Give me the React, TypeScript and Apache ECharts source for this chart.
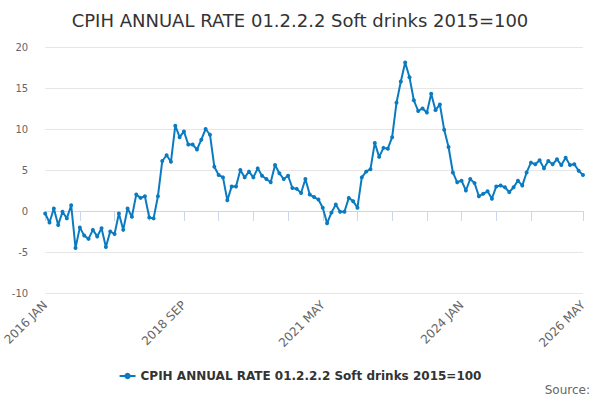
import * as echarts from "echarts";
import { useEffect, useRef } from "react";

const seriesName = "CPIH ANNUAL RATE 01.2.2.2 Soft drinks 2015=100";

// monthly categories, 2016 JAN .. 2026 MAY
const months = ["JAN", "FEB", "MAR", "APR", "MAY", "JUN", "JUL", "AUG", "SEP", "OCT", "NOV", "DEC"];
const categories: string[] = [];
for (let y = 2016; y <= 2026; y++) {
  for (const m of months) categories.push(`${y} ${m}`);
}
const cats = categories.slice(0, 125);

const rates = [
  -0.3, -1.4, 0.3, -1.7, -0.1, -0.9, 0.7, -4.5, -2.0, -3.0,
  -3.4, -2.3, -3.1, -2.1, -4.4, -2.5, -2.8, -0.3, -2.3, 0.3,
  -0.7, 2.0, 1.6, 1.8, -0.8, -0.9, 1.8, 6.1, 6.8, 6.0,
  10.4, 9.0, 9.7, 8.1, 8.1, 7.5, 8.7, 10.0, 9.3, 5.4,
  4.4, 4.1, 1.3, 3.0, 3.0, 5.0, 4.1, 4.8, 4.1, 5.2,
  4.3, 3.9, 3.5, 5.6, 4.6, 3.9, 4.3, 2.8, 2.7, 2.2,
  3.9, 2.0, 1.7, 1.4, 0.4, -1.5, -0.2, 0.8, -0.1, -0.1,
  1.6, 1.2, 0.4, 4.1, 4.8, 5.1, 8.3, 6.6, 7.7, 7.6,
  9.0, 13.2, 15.8, 18.1, 16.3, 13.5, 12.2, 12.5, 12.0, 14.3,
  12.3, 13.0, 9.9, 7.8, 4.7, 3.5, 3.7, 2.5, 3.9, 3.4,
  1.8, 2.1, 2.4, 1.5, 3.0, 3.1, 2.9, 2.3, 2.9, 3.7,
  3.1, 4.7, 5.9, 5.7, 6.2, 5.2, 6.1, 5.7, 6.3, 5.6,
  6.5, 5.6, 5.7, 4.9, 4.4,
];

const labelIdx = [0, 32, 64, 96, 124];
const lineColor = "#0b7bc1";
const font = "DejaVu Sans, sans-serif";

export default function App() {
  const ref = useRef<HTMLDivElement | null>(null);

  useEffect(() => {
    if (!ref.current) return;
    const chart = echarts.init(ref.current, undefined, { renderer: "svg" });
    chart.setOption({
      animation: false,
      backgroundColor: "#fff",
      textStyle: { fontFamily: font },
      title: {
        text: seriesName,
        left: "center",
        top: 6,
        textStyle: { fontSize: 18, fontWeight: "normal", color: "#333", fontFamily: font },
      },
      legend: {
        top: 365,
        left: "center",
        itemWidth: 16,
        itemHeight: 8,
        itemGap: 10,
        textStyle: { fontSize: 12, fontWeight: "bold", color: "#333", fontFamily: font },
        data: [seriesName],
      },
      grid: { left: 45, right: 17, top: 47, bottom: 107, containLabel: false },
      xAxis: {
        type: "category",
        data: cats,
        boundaryGap: false,
        axisLine: { lineStyle: { color: "#ccd6eb" } },
        axisTick: {
          length: 10,
          lineStyle: { color: "#ccd6eb" },
          interval: (i: number) => (i % 8 === 0 && i <= 112) || i === 124,
        },
        axisLabel: {
          rotate: 45,
          color: "#666",
          fontSize: 12,
          margin: 10,
          interval: (i: number) => labelIdx.includes(i),
          showMaxLabel: true,
        },
        splitLine: { show: false },
      },
      yAxis: {
        type: "value",
        min: -10,
        max: 20,
        interval: 5,
        axisLine: { show: false },
        axisTick: { show: false },
        axisLabel: { color: "#666", fontSize: 10, margin: 17 },
        splitLine: { lineStyle: { color: "#e6e6e6" } },
      },
      series: [
        {
          name: seriesName,
          type: "line",
          data: rates,
          symbol: "circle",
          symbolSize: 4,
          showAllSymbol: true,
          lineStyle: { color: lineColor, width: 2 },
          itemStyle: { color: lineColor },
        },
      ],
      graphic: [
        {
          type: "text",
          right: 10,
          top: 384,
          style: { text: "Source:", fill: "#666", fontSize: 12, fontFamily: font },
        },
      ],
    });
    return () => chart.dispose();
  }, []);

  return (
    <div
      ref={ref}
      style={{ position: "absolute", left: 0, top: 0, width: 600, height: 400 }}
    />
  );
}
